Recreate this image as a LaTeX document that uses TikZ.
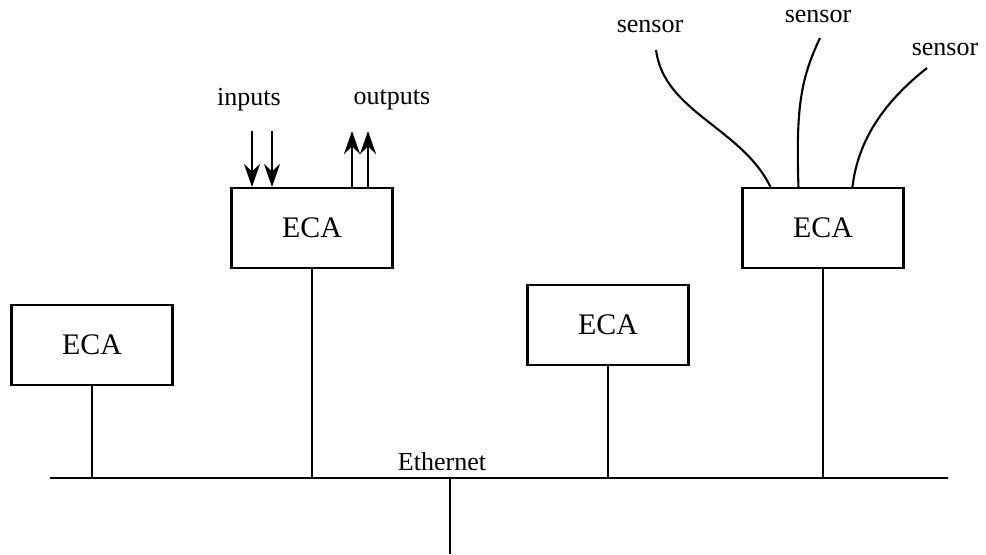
\documentclass[tikz,border=0pt]{standalone}
\usepackage{fontspec}
\setmainfont{Liberation Serif}
\usepackage{tikz}
\usetikzlibrary{arrows.meta, positioning, calc}
\newcommand\ecafont{\fontsize{17}{19}\selectfont}
\newcommand\lblfont{\fontsize{14.8}{17}\selectfont}

\begin{document}
\begin{tikzpicture}[
    x=0.02cm, y=-0.02cm,
    eca/.style={draw, line width=1.2pt, minimum width=3.22cm, minimum height=1.6cm,
                inner sep=0pt, font=\ecafont},
    lbl/.style={font=\lblfont, inner sep=1pt},
    wire/.style={line width=1.2pt},
    arr/.style={-{Stealth[length=0.46cm, width=0.32cm, inset=0.15cm]}, line width=1.2pt},
  ]
    \useasboundingbox (0,0) rectangle (986,554);

    % the four stations
    \node[eca] (ecaA) at (92,345)  {ECA};
    \node[eca] (ecaB) at (312,228) {ECA};
    \node[eca] (ecaC) at (608,325) {ECA};
    \node[eca] (ecaD) at (823,228) {ECA};

    % the bus
    \coordinate (busL) at (50,478);
    \coordinate (busR) at (948,478);
    \coordinate (tap)  at (450,554);
    \draw[wire] (busL) -- (busR);
    \draw[wire] (tap |- busL) -- (tap);
    \node[lbl, anchor=base] (eth) at (442,470) {Ethernet};

    \draw[wire] (ecaA.south) -- (ecaA.south |- busL);
    \draw[wire] (ecaB.south) -- (ecaB.south |- busL);
    \draw[wire] (ecaC.south) -- (ecaC.south |- busL);
    \draw[wire] (ecaD.south) -- (ecaD.south |- busL);

    % inputs and outputs
    \node[lbl] (inp)  at (249,100) {inputs};
    \node[lbl] (outp) at (392,100) {outputs};
    \coordinate (in1)  at (252,131);
    \coordinate (in2)  at (272,131);
    \coordinate (out1) at (352,131);
    \coordinate (out2) at (368,131);
    \draw[arr] (in1) -- (in1 |- ecaB.north);
    \draw[arr] (in2) -- (in2 |- ecaB.north);
    \draw[arr] (out1 |- ecaB.north) -- (out1);
    \draw[arr] (out2 |- ecaB.north) -- (out2);

    % sensors
    \node[lbl] (senA) at (650,27) {sensor};
    \node[lbl] (senB) at (818,17) {sensor};
    \node[lbl] (senC) at (945,50) {sensor};
    \coordinate (sA) at (656,50);
    \coordinate (sB) at (820,38);
    \coordinate (sC) at (927,68);
    \draw[wire] (sA) .. controls (664,112) and (742,128) .. ([xshift=0.58cm]ecaD.north west);
    \draw[wire] (sB) .. controls (800,80) and (796,110) .. ([xshift=1.14cm]ecaD.north west);
    \draw[wire] (sC) .. controls (884,102) and (858,140) .. ([xshift=2.22cm]ecaD.north west);
  \end{tikzpicture}
\end{document}
